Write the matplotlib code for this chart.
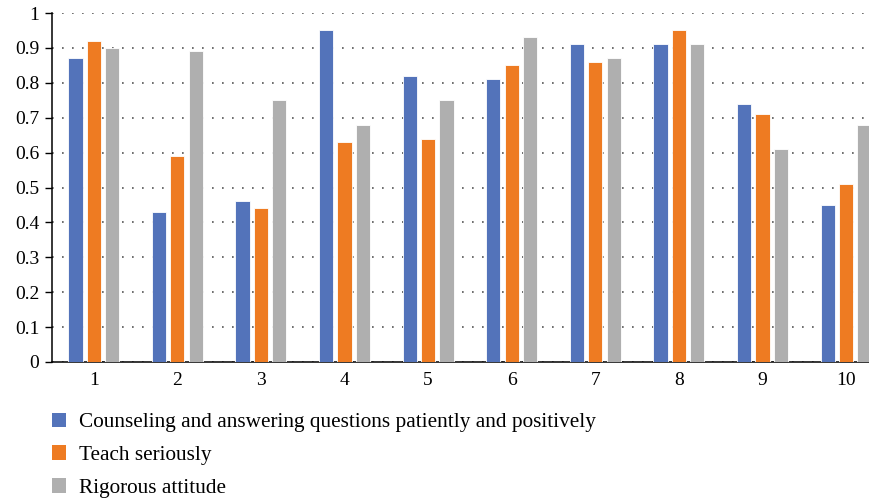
import numpy as np
import matplotlib
matplotlib.use("Agg")
import matplotlib.pyplot as plt
from matplotlib.patches import Patch

plt.rcParams['font.family'] = ['Liberation Serif', 'DejaVu Serif']

# scores per item
items = ["1", "2", "3", "4", "5", "6", "7", "8", "9", "10"]
counseling = [0.87, 0.43, 0.46, 0.95, 0.82, 0.81, 0.91, 0.91, 0.74, 0.45]
teach = [0.92, 0.59, 0.44, 0.63, 0.64, 0.85, 0.86, 0.95, 0.71, 0.51]
rigorous = [0.90, 0.89, 0.75, 0.68, 0.75, 0.93, 0.87, 0.91, 0.61, 0.68]
labels = ["Counseling and answering questions patiently and positively",
          "Teach seriously",
          "Rigorous attitude"]
colors = ["#5373BA", "#EE7B22", "#AFAFAF"]

fig = plt.figure(figsize=(8.69, 5.0), dpi=100)
ax = fig.add_axes([52 / 869, 138 / 500, 1 - 52 / 869, 349 / 500])

x = np.arange(1, len(items) + 1)
w = 0.17
step = 0.22
for i, vals in enumerate([counseling, teach, rigorous]):
    ax.bar(x + (i - 1) * step, vals, width=w, color=colors[i],
           edgecolor="white", linewidth=0.6, zorder=3)

ax.set_xlim(0.5, 10.275)
ax.set_ylim(0, 1)
ax.set_yticks(np.arange(0, 1.01, 0.1))
ax.set_yticklabels(["0"] + ["%.1f" % v for v in np.arange(0.1, 0.95, 0.1)] + ["1"])
ax.set_xticks(x)
ax.set_xticklabels(items)
ax.tick_params(axis="y", direction="out", length=5, width=1, labelsize=14, pad=4)
ax.tick_params(axis="x", length=0, labelsize=14, pad=7)

ax.yaxis.grid(True, linestyle=(0, (1, 5)), color="#555555", linewidth=1.2, zorder=0)
ax.spines["top"].set_visible(False)
ax.spines["right"].set_visible(False)
ax.spines["left"].set_linewidth(1.1)
ax.spines["bottom"].set_linewidth(1.1)

handles = [Patch(facecolor=c, edgecolor="none") for c in colors]
fig.legend(handles, labels, loc="upper left", bbox_to_anchor=(43 / 869, 1 - 404 / 500),
           frameon=False, fontsize=15.3, handlelength=0.7, handleheight=0.7,
           handletextpad=0.6, labelspacing=0.6, borderaxespad=0)

fig.savefig("out.png", dpi=100)
